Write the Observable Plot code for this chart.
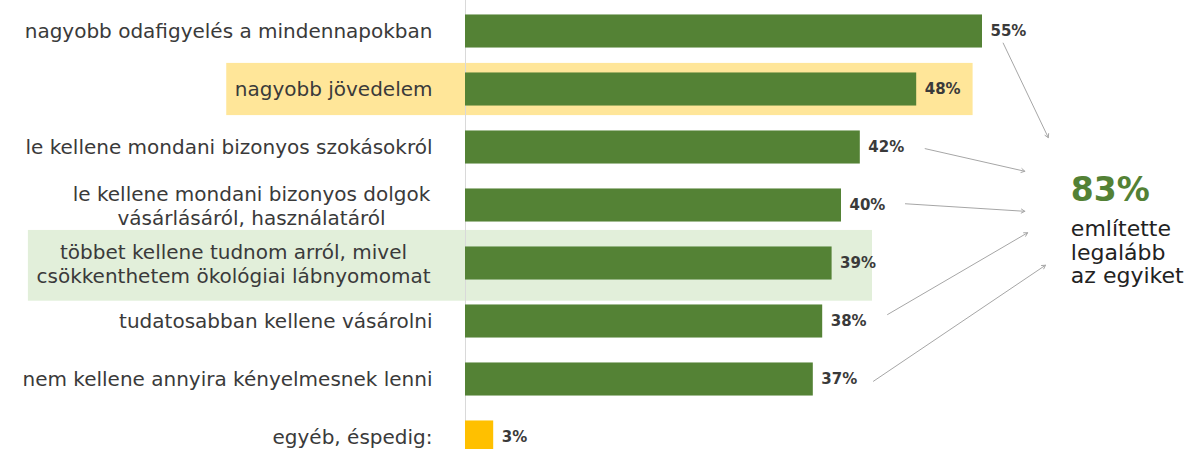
<!DOCTYPE html>
<html><head><meta charset="utf-8">
<script src="https://cdn.jsdelivr.net/npm/d3@7"></script>
<script src="https://cdn.jsdelivr.net/npm/@observablehq/plot@0.6"></script>
<style>html,body{margin:0;padding:0;background:#fff}</style>
</head><body><div id="chart"></div>
<script>
const categories = [
  "nagyobb odafigyelés a mindennapokban",
  "nagyobb jövedelem",
  "le kellene mondani bizonyos szokásokról",
  "le kellene mondani bizonyos dolgok\nvásárlásáról, használatáról",
  "többet kellene tudnom arról, mivel\ncsökkenthetem ökológiai lábnyomomat",
  "tudatosabban kellene vásárolni",
  "nem kellene annyira kényelmesnek lenni",
  "egyéb, éspedig:"
];
const values = [55, 48, 42, 40, 39, 38, 37, 3];
const kinds = ["item", "item", "item", "item", "item", "item", "item", "other"];
const valueLabels = ["55%", "48%", "42%", "40%", "39%", "38%", "37%", "3%"];
const summaryValue = "83%";
const summaryText = "említette\nlegalább\naz egyiket";
const linkedRows = [0, 2, 3, 5, 6];

const rows = categories.map((c, i) => ({i, label: c, value: values[i], kind: kinds[i], vl: valueLabels[i], multi: c.includes("\n")}));

// annotation geometry (data units): arrow start offsets and callout targets
const arrowGeom = [
  {dx: 2.2, dy: 0.2, tx: 62.0, ty: 1.83},
  {dx: 6.9, dy: 0.02, tx: 59.5, ty: 2.41},
  {dx: 6.8, dy: -0.03, tx: 59.5, ty: 3.10},
  {dx: 6.9, dy: -0.12, tx: 59.8, ty: 3.47},
  {dx: 6.4, dy: 0.03, tx: 61.7, ty: 4.03}
];
const arrows = linkedRows.map((r, k) => ({
  x1: values[r] + arrowGeom[k].dx, y1: r + arrowGeom[k].dy,
  x2: arrowGeom[k].tx, y2: arrowGeom[k].ty
}));

const font = "DejaVu Sans, Verdana, sans-serif";
const labelColor = "#3a3a3a";

const chart = Plot.plot({
  width: 1194,
  height: 449,
  margin: 0,
  x: {domain: [0, 55], range: [465, 982], axis: null},
  y: {domain: [0, 7], range: [31, 437], axis: null},
  color: {domain: ["item", "other"], range: ["#548235", "#FFC000"]},
  style: {background: "#fff", fontFamily: font},
  marks: [
    // highlight bands
    Plot.rect([rows[1]], {x1: -25.4, x2: d => d.value + 6.0, y1: d => d.i - 0.45, y2: d => d.i + 0.45, fill: "#FFE699"}),
    Plot.rect([rows[4]], {x1: -46.5, x2: d => d.value + 4.3, y1: d => d.i - 0.57, y2: d => d.i + 0.65, fill: "#E2EFDA"}),
    Plot.ruleX([0], {stroke: "#d9d9d9", strokeWidth: 1}),
    Plot.rect(rows, {x1: 0, x2: "value", y1: d => d.i - 0.285, y2: d => d.i + 0.285, fill: "kind"}),
    Plot.text(rows, {x: "value", y: "i", text: "vl", dx: 8, textAnchor: "start", fontWeight: "bold", fontSize: 15, fill: labelColor}),
    Plot.text(rows.filter(d => !d.multi), {x: 0, y: "i", text: "label", dx: -33, textAnchor: "end", fontSize: 20, fill: labelColor}),
    Plot.text([rows[3]], {x: 0, y: "i", text: "label", dx: -214, textAnchor: "middle", fontSize: 20, lineHeight: 1.18, fill: labelColor}),
    Plot.text([rows[4]], {x: 0, y: "i", text: "label", dx: -232, textAnchor: "middle", fontSize: 20, lineHeight: 1.18, fill: labelColor}),
    Plot.arrow(arrows, {x1: "x1", y1: "y1", x2: "x2", y2: "y2", stroke: "#a6a6a6", strokeWidth: 1, headLength: 6}),
    Plot.text([summaryValue], {x: 64.4, y: 2.74, text: d => d, textAnchor: "start", fontWeight: "bold", fontSize: 33, fill: "#538135"}),
    Plot.text([summaryText], {x: 64.4, y: 3.8, text: d => d, textAnchor: "start", fontSize: 22, lineHeight: 1.08, fill: "#222"})
  ]
});
document.getElementById("chart").appendChild(chart);
</script>
</body></html>
